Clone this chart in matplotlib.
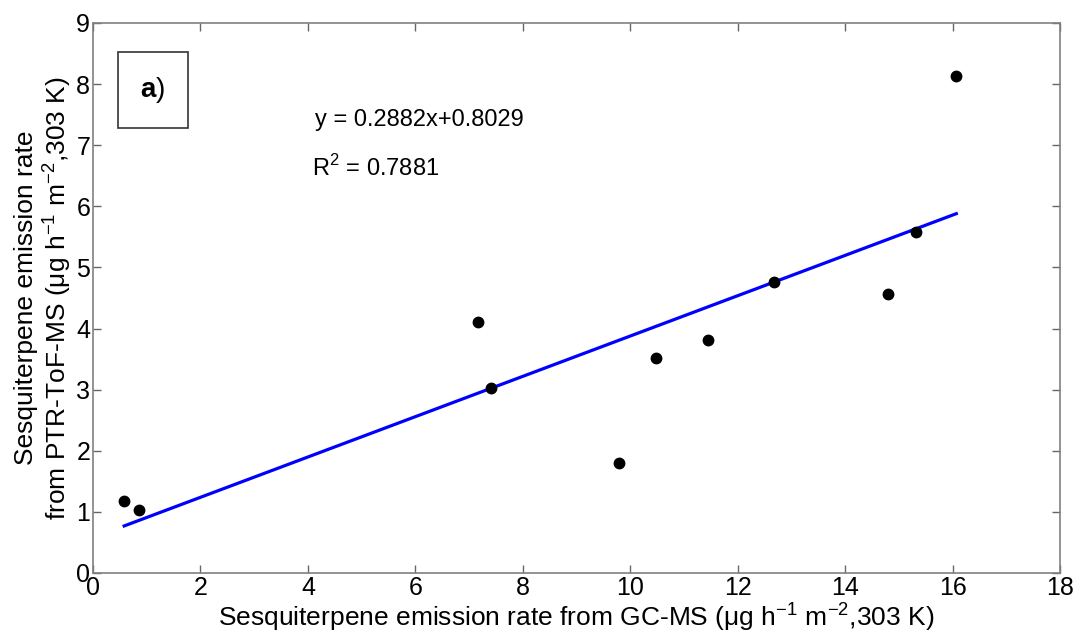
import numpy as np
import matplotlib
matplotlib.use("Agg")
import matplotlib.pyplot as plt
from matplotlib.patches import Rectangle

plt.rcParams["font.family"] = ["Liberation Sans", "DejaVu Sans"]
plt.rcParams["mathtext.fontset"] = "custom"
plt.rcParams["mathtext.rm"] = "Liberation Sans"
plt.rcParams["mathtext.bf"] = "Liberation Sans:bold"

# GC-MS vs PTR-ToF-MS emission rates
gcms = [0.58, 0.86, 7.16, 7.40, 9.79, 10.48, 11.44, 12.68, 14.79, 15.32, 16.07]
ptr  = [1.18, 1.03, 4.10, 3.03, 1.80, 3.52, 3.82, 4.77, 4.57, 5.58, 8.13]
fit_x = [0.58, 16.07]
fit_y = [0.77, 5.88]

eq_text = "y = 0.2882x+0.8029"
r2_text = "R$^2$ = 0.7881"

fig = plt.figure(figsize=(10.76, 6.36), dpi=100)
ax = fig.add_axes([93 / 1076, 1 - 573 / 636, 967 / 1076, 550 / 636])

ax.plot(fit_x, fit_y, color="#0000ff", lw=2.3, zorder=2)
ax.plot(gcms, ptr, "o", color="black", ms=7.5, zorder=3)

ax.set_xlim(0, 18); ax.set_ylim(0, 9)
ax.set_xticks(np.arange(0, 19, 2)); ax.set_yticks(np.arange(0, 10, 1))
ax.tick_params(direction="in", top=True, right=True, length=6, width=1,
               color="#666666", labelsize=18, pad=2)
for s in ax.spines.values():
    s.set_color("#808080"); s.set_linewidth(1.2)

ax.set_xlabel("Sesquiterpene emission rate from GC-MS (μg h$^{-1}$ m$^{-2}$,303 K)",
              fontsize=19, labelpad=0)
ax.set_ylabel("Sesquiterpene emission rate\nfrom PTR-ToF-MS (μg h$^{-1}$ m$^{-2}$,303 K)",
              fontsize=19, labelpad=2, linespacing=1.1)

# panel label box
ax.add_patch(Rectangle((0.46, 7.28), 1.30, 1.24, fill=False, ec="#333333", lw=1.2, zorder=4))
ax.text(1.11, 7.90, r"$\mathbf{a}$)", fontsize=20, ha="center", va="center")

ax.text(4.13, 7.41, eq_text, fontsize=17, ha="left", va="center")
ax.text(4.08, 6.63, r2_text, fontsize=17, ha="left", va="center")

fig.savefig("out.png", dpi=100)
